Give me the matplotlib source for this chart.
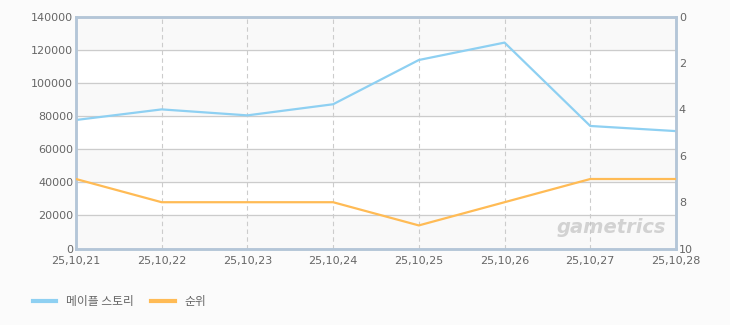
import matplotlib
matplotlib.use('Agg')
import matplotlib.pyplot as plt
from matplotlib.lines import Line2D

plt.rcParams['font.family'] = ['Noto Sans CJK KR', 'DejaVu Sans']

dates = ['25,10,21', '25,10,22', '25,10,23', '25,10,24',
         '25,10,25', '25,10,26', '25,10,27', '25,10,28']
players = [77600, 84000, 80400, 87100, 113800, 124300, 74000, 70900]
rank = [7, 8, 8, 8, 9, 8, 7, 7]
left_ticks = [0, 20000, 40000, 60000, 80000, 100000, 120000, 140000]
right_ticks = [0, 2, 4, 6, 8, 10]

blue = '#8ed0f2'
orange = '#ffbb55'
grid_c = '#cccccc'
spine_c = '#b4c6d8'
text_c = '#666666'

fig = plt.figure(figsize=(7.3, 3.25), dpi=100)
fig.patch.set_facecolor('#fbfbfb')
ax1 = fig.add_axes([0.104, 0.235, 0.822, 0.714])
ax1.set_facecolor('white')

x = list(range(len(dates)))

# alternating background bands
for i in range(len(left_ticks) - 1):
    if i % 2 == 0:
        ax1.axhspan(left_ticks[i], left_ticks[i + 1], color='#f9f9f9', zorder=0)

ax1.set_xlim(0, len(dates) - 1)
ax1.set_ylim(0, 140000)
ax1.set_yticks(left_ticks)
ax1.set_xticks(x)
ax1.set_xticklabels(dates)
for t in left_ticks[1:-1]:
    ax1.axhline(t, color=grid_c, lw=0.9, zorder=1)
for xi in x[1:-1]:
    ax1.axvline(xi, color=grid_c, lw=0.8, ls=(0, (4, 3)), zorder=1)

ax1.plot(x, players, color=blue, lw=1.6, zorder=3)

ax2 = ax1.twinx()
ax2.set_ylim(10, 0)
ax2.set_yticks(right_ticks)
ax2.plot(x, rank, color=orange, lw=1.6, zorder=3)

for ax in (ax1, ax2):
    for s in ax.spines.values():
        s.set_color(spine_c)
        s.set_linewidth(1.8)
    ax.tick_params(length=0, labelsize=8, colors=text_c, pad=2)
ax1.tick_params(axis='x', pad=5)

for lab in ax1.get_yticklabels() + ax2.get_yticklabels() + ax1.get_xticklabels():
    lab.set_family('DejaVu Sans')

# watermark
ax1.text(0.983, 0.09, 'gametrics', transform=ax1.transAxes, ha='right', va='center',
         fontsize=14, fontweight='bold', style='italic', color='#b8b8b8', alpha=0.6,
         family='DejaVu Sans', zorder=2)

handles = [Line2D([], [], color=blue, lw=3), Line2D([], [], color=orange, lw=3)]
fig.legend(handles, ['메이플 스토리', '순위'], loc='lower left', bbox_to_anchor=(0.03, 0.02),
           ncol=2, frameon=False, fontsize=8.5, handlelength=2, columnspacing=1.5,
           labelcolor=text_c)

plt.savefig('out.png', facecolor=fig.get_facecolor())
